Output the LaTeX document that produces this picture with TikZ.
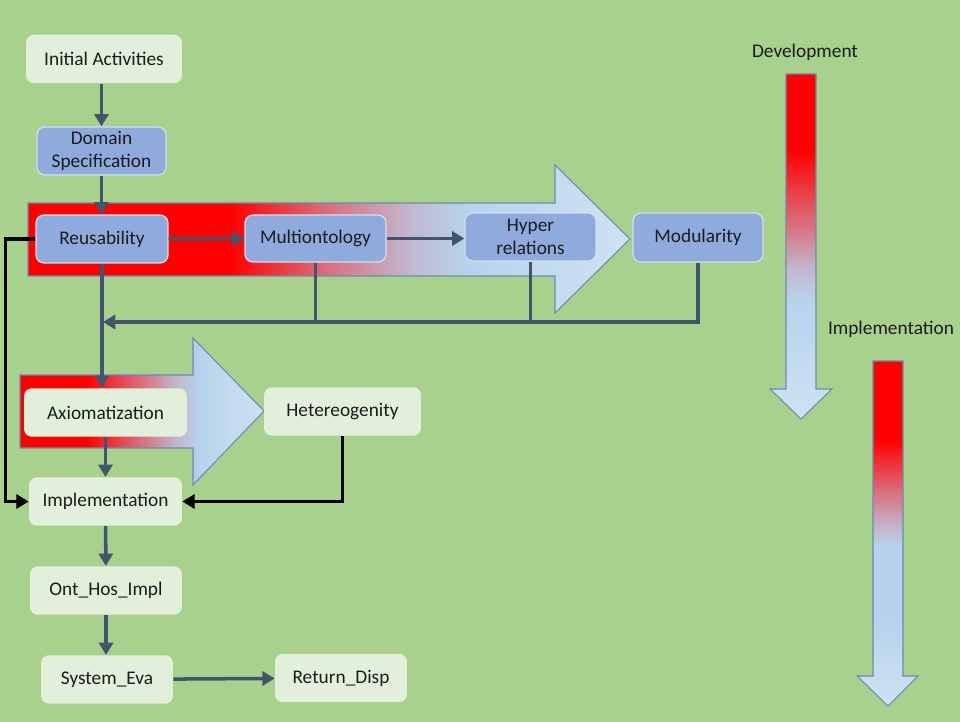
\documentclass[tikz,border=0pt]{standalone}
\usepackage{fontspec}
\setmainfont{Carlito}
\usepackage{tikz}
\usetikzlibrary{arrows.meta,positioning,calc}
\definecolor{meadow}   {HTML}{A9D18E}
\definecolor{sage}     {HTML}{E2EFDA}
\definecolor{cornflow} {HTML}{8FAADC}
\definecolor{frost}    {HTML}{D3DEF0}
\definecolor{slate}    {HTML}{44546A}
\definecolor{rim}      {HTML}{6A8CB2}
\definecolor{inkdark}  {HTML}{1C1C1C}
\definecolor{hotred}   {HTML}{FF0000}
\definecolor{rosy}     {HTML}{D9707F}
\definecolor{lilac}    {HTML}{C2B6CC}
\definecolor{skyblue}  {HTML}{B7D3EC}
\definecolor{paleblue} {HTML}{D0E1F3}

\pgfdeclarehorizontalshading{reuseflow}{100bp}{color(0bp)=(hotred); color(25bp)=(hotred); color(41.75bp)=(hotred); color(50bp)=(rosy); color(56.5bp)=(lilac); color(61.5bp)=(skyblue); color(75bp)=(paleblue); color(100bp)=(paleblue)}
\pgfdeclarehorizontalshading{axiomflow}{100bp}{color(0bp)=(hotred); color(25bp)=(hotred); color(38.5bp)=(hotred); color(50bp)=(rosy); color(57bp)=(lilac); color(62bp)=(skyblue); color(75bp)=(paleblue); color(100bp)=(paleblue)}
\pgfdeclareverticalshading{devflow}{100bp}{color(0bp)=(paleblue); color(25bp)=(paleblue); color(42bp)=(skyblue); color(47bp)=(lilac); color(53bp)=(rosy); color(64bp)=(hotred); color(75bp)=(hotred); color(100bp)=(hotred)}
\pgfdeclareverticalshading{implflow}{100bp}{color(0bp)=(paleblue); color(25bp)=(paleblue); color(37.5bp)=(skyblue); color(48bp)=(skyblue); color(51bp)=(lilac); color(56bp)=(rosy); color(63.5bp)=(hotred); color(75bp)=(hotred); color(100bp)=(hotred)}

\tikzset{
  label font/.style={font=\fontsize{11}{13}\selectfont, text=inkdark},
  greenbox/.style={label font, fill=sage, rounded corners=4.5pt,
                   minimum height=0.97cm, align=center, inner sep=2pt},
  bluebox/.style={label font, fill=cornflow, draw=frost, line width=0.7pt,
                  rounded corners=4.5pt, minimum height=0.96cm,
                  align=center, inner sep=2pt},
  bigarrow/.style={draw=rim, line width=0.6pt},
  flow/.style={draw=slate, line width=2pt,
               -{Triangle[length=7pt,width=8pt]}},
  feed/.style={draw=slate, line width=2pt},
  backflow/.style={draw=black, line width=1.8pt,
                   -{Triangle[length=7pt,width=8pt]}}
}

\begin{document}
\begin{tikzpicture}[x=0.02cm, y=-0.02cm]
  \fill[meadow] (0,0) rectangle (960,722);
  \useasboundingbox (0,0) rectangle (960,722);

  % shaded arrows
  \path[bigarrow, shading=reuseflow]
    (28,203) -- (555,203) -- (555,165) -- (630,239) -- (555,313)
    -- (555,276) -- (28,276) -- cycle;
  \path[bigarrow, shading=axiomflow]
    (20,375) -- (193,375) -- (193,338) -- (264,411) -- (193,485)
    -- (193,448) -- (20,448) -- cycle;
  \path[bigarrow, shading=devflow]
    (786,74) -- (816,74) -- (816,389) -- (832,389) -- (801,419)
    -- (770,389) -- (786,389) -- cycle;
  \path[bigarrow, shading=implflow]
    (873,361) -- (903,361) -- (903,676) -- (918,676) -- (888,706)
    -- (857,676) -- (873,676) -- cycle;

  \node[label font] (devlabel) at (805,52) {Development};
  \node[label font] (impllabel) at (891,329) {Implementation};

  % boxes
  \node[greenbox, minimum width=3.12cm] (init) at (104,59) {Initial Activities};
  \node[bluebox, minimum width=2.58cm] (dom) at (101.5,151) {Domain\\Specification};
  \node[bluebox, minimum width=2.64cm] (reu) at (102,239) {Reusability};
  \node[bluebox, minimum width=2.82cm, minimum height=0.94cm] (mul) at (315.5,238.5) {Multiontology};
  \node[bluebox, minimum width=2.62cm] (hyp) at (530.5,237) {Hyper\\relations};
  \node[bluebox, minimum width=2.6cm, minimum height=0.98cm] (mod) at (698,237.5) {Modularity};
  \node[greenbox, minimum width=3.26cm] (axi) at (105.5,412.5) {Axiomatization};
  \node[greenbox, minimum width=3.14cm] (het) at (342.5,411.5) {Hetereogenity};
  \node[greenbox, minimum width=3.06cm] (imp) at (105.5,501.5) {Implementation};
  \node[greenbox, minimum width=3.04cm] (ont) at (106,590.5) {Ont\_Hos\_Impl};
  \node[greenbox, minimum width=2.64cm] (sys) at (107,679.5) {System\_Eva};
  \node[greenbox, minimum width=2.64cm] (ret) at (341,678) {Return\_Disp};

  \coordinate (fbend) at (103,322);

  % connectors
  \draw[flow] (init.south -| dom) -- (dom);
  \draw[flow] (dom) -- (dom |- reu.north);
  \draw[flow] (reu) -- (mul);
  \draw[flow] (mul) -- (hyp.west |- mul);
  \draw[flow] (reu.south) -- (reu.south |- axi.north);
  \draw[feed] (mul.south) -- (mul.south |- fbend);
  \draw[feed] (hyp.south) -- (hyp.south |- fbend);
  \draw[flow] (mod.south) -- (mod.south |- fbend) -- (fbend);
  \draw[flow] (axi) -- (imp);
  \draw[flow] (imp) -- (ont);
  \draw[flow] (ont) -- (ont |- sys.north);
  \draw[flow] (sys) -- (ret);
  \draw[backflow] (reu.west) -- ++(-30,0) |- (imp.west);
  \draw[backflow] (het.south) |- (imp.east);
\end{tikzpicture}
\end{document}
